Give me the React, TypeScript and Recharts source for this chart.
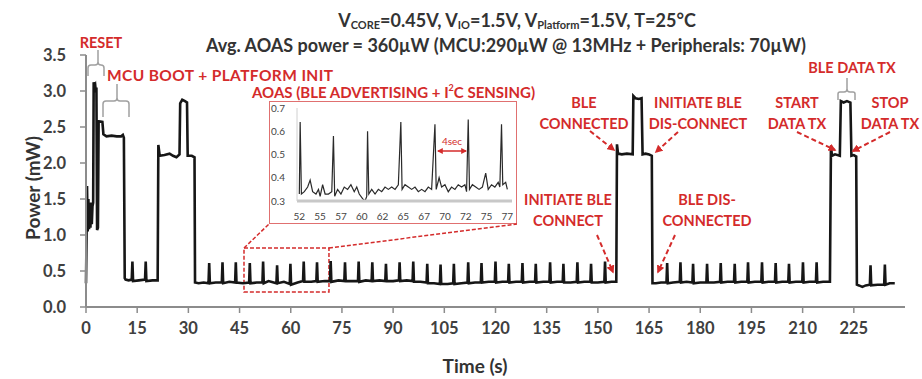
import { LineChart, Line, XAxis, YAxis, ReferenceArea } from "recharts";

// main power trace, [time s, power mW]
const bootTrace = [
  [0, 0.33], [0.15, 0.95], [0.3, 1.68], [0.5, 1.05], [0.7, 1.5], [0.9, 1.08], [1.1, 1.42], [1.3, 1.1],
  [1.5, 1.45], [1.7, 1.15], [1.9, 1.4], [2.1, 1.45], [2.25, 3.12], [2.5, 3.06], [2.7, 3.08], [2.9, 2.98],
  [3.05, 3.05], [3.25, 1.07], [3.5, 1.1], [3.7, 2.58], [4.8, 2.57], [5.1, 2.4], [6, 2.37], [7.5, 2.38],
  [9, 2.37], [10.3, 2.37], [10.8, 2.39], [11.1, 2.35], [11.35, 0.4],
];
const idleTrace = [
  [11.6, 0.38], [12.5, 0.37], [13.4, 0.38], [13.6, 0.63], [13.8, 0.36], [15.5, 0.37], [17.3, 0.38],
  [17.5, 0.63], [17.7, 0.36], [19.5, 0.37], [21.0, 0.37],
];
const initTrace = [
  [21.2, 2.25], [21.6, 2.1], [23, 2.11], [24.5, 2.13], [25.5, 2.1], [26.5, 2.08], [27.4, 2.12],
  [27.6, 2.83], [28.2, 2.88], [29, 2.86], [29.6, 2.84], [29.8, 2.1], [31, 2.1], [31.8, 2.08], [31.95, 0.34],
];
const advTrace1 = [
  [33, 0.33], [34.5, 0.34], [35.9, 0.33], [36.1, 0.61], [36.3, 0.33],
  [38, 0.34], [39.8, 0.34], [40.0, 0.62], [40.2, 0.33],
  [42, 0.35], [43.7, 0.34], [43.9, 0.62], [44.1, 0.34],
  [46, 0.33], [47.8, 0.34], [48.0, 0.61], [48.2, 0.33],
  [50, 0.34], [51.7, 0.34], [51.9, 0.63], [52.1, 0.33],
  [53.5, 0.36], [55.8, 0.33], [56.0, 0.58], [56.2, 0.33],
  [58, 0.35], [59.7, 0.32], [59.9, 0.6], [60.1, 0.31],
  [62, 0.34], [63.6, 0.36], [63.8, 0.63], [64.0, 0.35],
  [66, 0.35], [67.5, 0.36], [67.7, 0.62], [67.9, 0.35],
  [70, 0.36], [71.5, 0.36], [71.7, 0.64], [71.9, 0.35],
  [74, 0.37], [75.7, 0.36], [75.9, 0.62], [76.1, 0.36],
  [78, 0.36], [79.7, 0.36], [79.9, 0.63], [80.1, 0.35],
  [82, 0.37], [83.7, 0.36], [83.9, 0.62], [84.1, 0.36],
  [86, 0.37], [87.7, 0.36], [87.9, 0.6], [88.1, 0.36],
  [90, 0.36], [91.7, 0.37], [91.9, 0.62], [92.1, 0.36],
  [94, 0.37], [95.7, 0.36], [95.9, 0.63], [96.1, 0.35],
  [98, 0.35], [99.8, 0.34], [100.0, 0.6], [100.2, 0.33],
  [102, 0.33], [103.7, 0.32], [103.9, 0.59], [104.1, 0.32],
  [106, 0.32], [107.6, 0.33], [107.8, 0.6], [108.0, 0.32],
  [110, 0.33], [111.8, 0.34], [112.0, 0.62], [112.2, 0.33],
  [114, 0.34], [115.7, 0.34], [115.9, 0.61], [116.1, 0.34],
  [118, 0.35], [119.8, 0.35], [120.0, 0.63], [120.2, 0.34],
  [122, 0.35], [123.7, 0.35], [123.9, 0.6], [124.1, 0.34],
  [126, 0.35], [127.7, 0.35], [127.9, 0.61], [128.1, 0.34],
  [130, 0.35], [131.6, 0.35], [131.8, 0.6], [132.0, 0.34],
  [134, 0.35], [135.8, 0.35], [136.0, 0.62], [136.2, 0.34],
  [138, 0.35], [139.7, 0.35], [139.9, 0.6], [140.1, 0.34],
  [142, 0.34], [143.8, 0.35], [144.0, 0.62], [144.2, 0.34],
  [146, 0.35], [147.8, 0.35], [148.0, 0.6], [148.2, 0.34],
  [150, 0.34], [151.9, 0.35], [152.1, 0.63], [152.3, 0.34],
  [154, 0.35], [155.4, 0.35],
];
const connTrace = [
  [155.6, 2.26], [155.9, 2.13], [157, 2.12], [158.5, 2.13], [160.2, 2.12], [160.4, 2.93], [161, 2.9],
  [162, 2.89], [162.8, 2.9], [163.1, 2.12], [164, 2.13], [165, 2.12], [165.8, 2.1], [166.0, 0.33],
];
const advTrace2 = [
  [167, 0.33], [168.5, 0.34], [170.1, 0.34], [170.3, 0.61], [170.5, 0.33],
  [172, 0.34], [174.0, 0.35], [174.2, 0.62], [174.4, 0.34],
  [176, 0.35], [177.7, 0.34], [177.9, 0.6], [178.1, 0.33],
  [180, 0.34], [181.8, 0.34], [182.0, 0.6], [182.2, 0.34],
  [184, 0.34], [185.8, 0.35], [186.0, 0.61], [186.2, 0.34],
  [188, 0.35], [189.9, 0.35], [190.1, 0.6], [190.3, 0.34],
  [192, 0.35], [193.8, 0.35], [194.0, 0.62], [194.2, 0.34],
  [196, 0.35], [197.9, 0.35], [198.1, 0.62], [198.3, 0.34],
  [200, 0.35], [201.9, 0.35], [202.1, 0.61], [202.3, 0.34],
  [204, 0.35], [205.8, 0.35], [206.0, 0.6], [206.2, 0.34],
  [208, 0.35], [209.9, 0.35], [210.1, 0.62], [210.3, 0.34],
  [212, 0.35], [213.9, 0.35], [214.1, 0.62], [214.3, 0.34],
  [216, 0.35], [218.0, 0.35],
];
const txTrace = [
  [218.3, 2.24], [218.6, 2.1], [219.5, 2.12], [220.9, 2.1], [221.2, 2.86], [222, 2.84], [223, 2.86],
  [224.0, 2.84], [224.3, 2.1], [225, 2.11], [225.7, 2.09], [225.9, 0.31],
];
const endTrace = [
  [226.5, 0.3], [227.5, 0.28], [228.5, 0.3], [229.7, 0.31], [229.9, 0.58], [230.1, 0.3], [232, 0.31],
  [233.9, 0.31], [234.1, 0.59], [234.3, 0.31], [235.5, 0.33], [237, 0.33],
];

// zoomed inset 52..77 s
const insetTrace = [
  [52.0, 0.33], [52.1, 0.64], [52.25, 0.33], [52.6, 0.34], [53.0, 0.36], [53.3, 0.39], [53.6, 0.34],
  [54.0, 0.33], [54.3, 0.35], [54.5, 0.32], [54.8, 0.37], [55.1, 0.33], [55.5, 0.33], [55.9, 0.34],
  [56.1, 0.58], [56.25, 0.32], [56.6, 0.35], [57.0, 0.33], [57.4, 0.36], [57.8, 0.35], [58.2, 0.37],
  [58.6, 0.34], [58.9, 0.36], [59.2, 0.33], [59.6, 0.31], [59.9, 0.3], [60.1, 0.32], [60.2, 0.6],
  [60.35, 0.33], [60.7, 0.35], [61.1, 0.33], [61.5, 0.35], [61.9, 0.34], [62.3, 0.36], [62.7, 0.35],
  [63.1, 0.36], [63.5, 0.35], [63.9, 0.37], [64.2, 0.64], [64.35, 0.35], [64.7, 0.37], [65.1, 0.36],
  [65.5, 0.35], [65.9, 0.36], [66.3, 0.34], [66.7, 0.35], [67.1, 0.34], [67.5, 0.36], [67.9, 0.35],
  [68.3, 0.63], [68.45, 0.35], [68.8, 0.4], [69.1, 0.36], [69.5, 0.37], [69.9, 0.34], [70.3, 0.36],
  [70.7, 0.35], [71.1, 0.37], [71.5, 0.36], [71.9, 0.37], [72.1, 0.34], [72.3, 0.65], [72.45, 0.35],
  [72.8, 0.37], [73.2, 0.36], [73.6, 0.35], [74.0, 0.36], [74.4, 0.42], [74.7, 0.35], [75.1, 0.37],
  [75.5, 0.36], [75.9, 0.38], [76.1, 0.36], [76.3, 0.63], [76.45, 0.37], [76.8, 0.38], [77.0, 0.35],
];

const xTicks = [0, 15, 30, 45, 60, 75, 90, 105, 120, 135, 150, 165, 180, 195, 210, 225];
const yTicks = [0, 0.5, 1, 1.5, 2, 2.5, 3, 3.5];
const insetXTicks = [52, 54.5, 57, 59.5, 62, 64.5, 67, 69.5, 72, 74.5, 77];
const insetYTicks = [0.3, 0.4, 0.5, 0.6, 0.7];

const mainData = [
  ...bootTrace, ...idleTrace, ...initTrace, ...advTrace1, ...connTrace, ...advTrace2, ...txTrace, ...endTrace,
].map(([t, p]) => ({ t, p }));
const insetData = insetTrace.map(([t, p]) => ({ t, p }));

const RED = "#d42b2b";
const FONT = "Lato, 'Open Sans', sans-serif";
const AXIS = "#8c8c8c";

function RedLabel({ x, y, lines }: { x: number; y: number; lines: string[] }) {
  return (
    <>
      {lines.map((s, i) => (
        <text key={i} x={x} y={y + i * 21} textAnchor="middle" dominantBaseline="central"
          fill={RED} fontSize={14.5} fontWeight={700} fontFamily={FONT}>{s}</text>
      ))}
    </>
  );
}

export default function App() {
  const tickStyle = { fill: "#404040", fontSize: 16.5, fontWeight: 700, fontFamily: FONT };
  return (
    <div style={{ position: "absolute", left: 0, top: 0, width: 922, height: 379, background: "#fff" }}>
      <LineChart width={922} height={379} data={mainData} margin={{ top: 55, right: 17, bottom: 32, left: 16 }}>
        <XAxis dataKey="t" type="number" domain={[0, 240]} ticks={xTicks} interval={0}
          tick={tickStyle} tickSize={6} tickMargin={9} height={40}
          axisLine={{ stroke: AXIS, strokeWidth: 2 }} tickLine={{ stroke: AXIS, strokeWidth: 1.5 }} />
        <YAxis type="number" domain={[0, 3.5]} ticks={yTicks} interval={0} width={70}
          tickFormatter={(v: number) => v.toFixed(1)}
          tick={tickStyle} tickSize={6} tickMargin={14}
          axisLine={{ stroke: AXIS, strokeWidth: 2 }} tickLine={{ stroke: AXIS, strokeWidth: 1.5 }} />
        <ReferenceArea x1={46.3} x2={71.2} y1={0.21} y2={0.82} fill="none" fillOpacity={0}
          stroke={RED} strokeWidth={1.5} strokeDasharray="4 2" />
        <Line type="linear" dataKey="p" stroke="#161616" strokeWidth={2.6} dot={false} isAnimationActive={false} />
      </LineChart>

      <div style={{ position: "absolute", left: 269, top: 101, width: 248, height: 123, boxSizing: "border-box",
        border: "1.5px solid #e07070", background: "#fff" }} />
      <div style={{ position: "absolute", left: 269, top: 101 }}>
        <LineChart width={248} height={123} data={insetData} margin={{ top: 7, right: 5, bottom: 9, left: 4 }}>
          <XAxis dataKey="t" type="number" domain={[51.72, 77.56]} ticks={insetXTicks} interval={0}
            tickFormatter={(v: number) => String(Math.round(v))}
            tick={{ fill: "#444", fontSize: 10, fontFamily: FONT }} tickSize={0} tickMargin={12} height={14}
            axisLine={{ stroke: "#c8c8c8", strokeWidth: 3 }} tickLine={false} />
          <YAxis type="number" domain={[0.3, 0.7]} ticks={insetYTicks} interval={0} width={24}
            tickFormatter={(v: number) => v.toFixed(1)}
            tick={{ fill: "#444", fontSize: 10, fontFamily: FONT }} tickSize={0} tickMargin={12}
            axisLine={{ stroke: "#d0d0d0", strokeWidth: 1 }} tickLine={false} />
          <Line type="linear" dataKey="p" stroke="#2a2a2a" strokeWidth={1.2} dot={false} isAnimationActive={false} />
        </LineChart>
      </div>

      <svg width={922} height={379} style={{ position: "absolute", left: 0, top: 0, pointerEvents: "none" }}>
        <defs>
          <marker id="ah" viewBox="0 0 10 10" refX="8" refY="5" markerWidth="4" markerHeight="4" orient="auto-start-reverse">
            <path d="M0,0 L10,5 L0,10 z" fill={RED} />
          </marker>
        </defs>

        <g fontFamily={FONT} fontWeight={700} fill="#333">
          <text x={517} y={20} textAnchor="middle" dominantBaseline="central" fontSize={18}>
            V<tspan fontSize={11} dy={4}>CORE</tspan><tspan dy={-4}>=0.45V, V</tspan>
            <tspan fontSize={11} dy={4}>IO</tspan><tspan dy={-4}>=1.5V, V</tspan>
            <tspan fontSize={11} dy={4}>Platform</tspan><tspan dy={-4}>=1.5V, T=25°C</tspan>
          </text>
          <text x={506} y={45} textAnchor="middle" dominantBaseline="central" fontSize={18}>
            Avg. AOAS power = 360µW (MCU:290µW @ 13MHz + Peripherals: 70µW)
          </text>
          <text x={475} y={365} textAnchor="middle" dominantBaseline="central" fontSize={19}>Time (s)</text>
          <text x={32} y={188} textAnchor="middle" dominantBaseline="central" fontSize={19}
            transform="rotate(-90 32 188)">Power (mW)</text>
        </g>

        <g fill="none" stroke="#a0a0a0" strokeWidth={1.5}>
          <path d="M88,76 L88,68 Q88,65 91,65 L95,65 Q98,65 98,62 L98,50 M98,62 Q98,65 101,65 Q104,65 104,68 L104,76" />
          <path d="M103,117 L103,104 Q103,101 106,101 L114,101 Q117,101 117,98 L117,84 M117,98 Q117,101 120,101 L126,101 Q129,101 129,104 L129,117" />
          <path d="M838,100 L838,94 Q838,92 840,92 L844,92 Q847,92 847,89 L847,78 M847,89 Q847,92 850,92 L853,92 Q855,92 855,94 L855,100" />
        </g>

        <g stroke={RED} strokeWidth={1.5} strokeDasharray="4 2" fill="none">
          <line x1={244} y1={248} x2={269} y2={224} />
          <line x1={329} y1={248} x2={517} y2={224} />
        </g>
        <g stroke={RED} strokeWidth={2} strokeDasharray="5 3" fill="none">
          <line x1={597} y1={235} x2={613} y2={272} markerEnd="url(#ah)" />
          <line x1={675} y1={235} x2={658} y2={272} markerEnd="url(#ah)" />
          <line x1={590} y1={131} x2={614} y2={150} markerEnd="url(#ah)" />
          <line x1={678} y1={132} x2={656} y2={152} markerEnd="url(#ah)" />
          <line x1={797} y1={132} x2={835} y2={150} markerEnd="url(#ah)" />
          <line x1={890} y1={132} x2={853} y2={151} markerEnd="url(#ah)" />
        </g>
        <line x1={438} y1={151} x2={466} y2={151} stroke={RED} strokeWidth={1.5}
          markerStart="url(#ah)" markerEnd="url(#ah)" />
        <text x={452} y={141} textAnchor="middle" dominantBaseline="central" fill={RED} fontSize={10} fontFamily={FONT}>4sec</text>

        <RedLabel x={101} y={42} lines={["RESET"]} />
        <text x={107} y={75} dominantBaseline="central" fill={RED} fontSize={15.5} fontWeight={700} fontFamily={FONT}
          textLength={226} lengthAdjust="spacing">
          MCU BOOT + PLATFORM INIT
        </text>
        <text x={252} y={92} dominantBaseline="central" fill={RED} fontSize={15} fontWeight={700} fontFamily={FONT}>
          AOAS (BLE ADVERTISING + I<tspan fontSize={9} dy={-5}>2</tspan><tspan dy={5}>C SENSING)</tspan>
        </text>
        <RedLabel x={584} y={102} lines={["BLE", "CONNECTED"]} />
        <RedLabel x={698} y={102} lines={["INITIATE BLE", "DIS-CONNECT"]} />
        <RedLabel x={568} y={199} lines={["INITIATE BLE", "CONNECT"]} />
        <RedLabel x={707} y={199} lines={["BLE DIS-", "CONNECTED"]} />
        <RedLabel x={852} y={67} lines={["BLE DATA TX"]} />
        <RedLabel x={797} y={102} lines={["START", "DATA TX"]} />
        <RedLabel x={890} y={102} lines={["STOP", "DATA TX"]} />
      </svg>
    </div>
  );
}
